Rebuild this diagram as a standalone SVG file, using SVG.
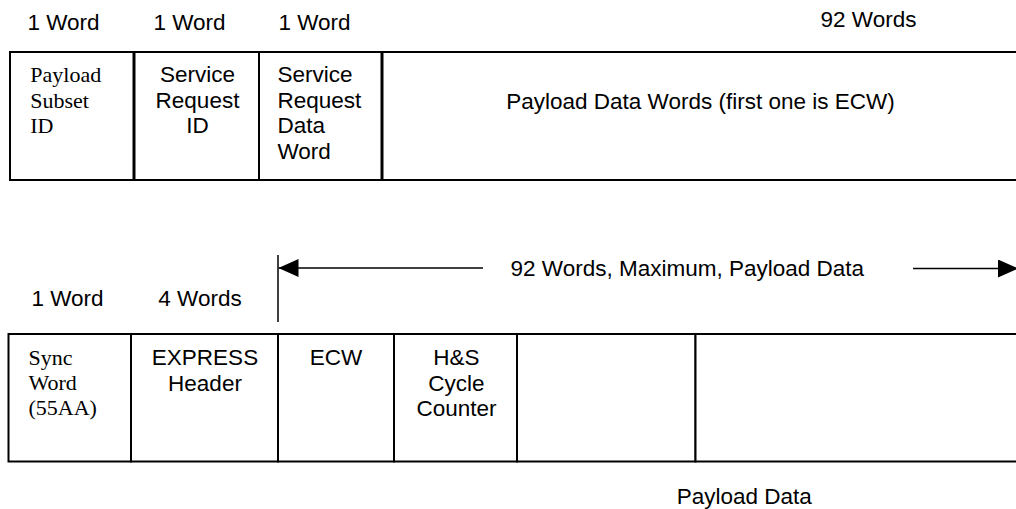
<svg xmlns="http://www.w3.org/2000/svg" width="1016" height="509" viewBox="0 0 1016 509">
  <style>
    .cell { fill: #ffffff; stroke: #000000; stroke-width: 2; }
    .sans { font-family: "Liberation Sans", Arial, sans-serif; font-size: 22.5px; fill: #000000; }
    .serif { font-family: "Liberation Serif", "Times New Roman", serif; font-size: 22px; fill: #000000; }
    .mid { text-anchor: middle; }
    .conn { stroke: #000000; stroke-width: 1.5; fill: none; }
  </style>
  <defs>
    <marker id="arrow" viewBox="0 0 20 18" refX="20" refY="9" markerWidth="20" markerHeight="18" markerUnits="userSpaceOnUse" orient="auto">
      <polygon points="0,0 20,9 0,18" fill="#000000"/>
    </marker>
  </defs>
  <rect width="1016" height="509" fill="#ffffff"/>

  <!-- Top row size labels -->
  <g id="top-labels">
    <text class="sans mid" x="63.5" y="30">1 Word</text>
    <text class="sans mid" x="189.5" y="30">1 Word</text>
    <text class="sans mid" x="314.5" y="30">1 Word</text>
    <text class="sans mid" x="868.5" y="27">92 Words</text>
  </g>

  <!-- Top row cells -->
  <g id="payload-subset-id">
    <rect class="cell" x="10" y="52" width="124" height="128"/>
    <text class="serif" x="30.3" y="82">Payload</text>
    <text class="serif" x="30.3" y="107.5">Subset</text>
    <text class="serif" x="30.3" y="133">ID</text>
  </g>
  <g id="service-request-id">
    <rect class="cell" x="134" y="52" width="125" height="128"/>
    <text class="sans mid" x="197.5" y="82">Service</text>
    <text class="sans mid" x="197.5" y="107.5">Request</text>
    <text class="sans mid" x="197.5" y="133">ID</text>
  </g>
  <g id="service-request-data-word">
    <rect class="cell" x="259" y="52" width="123" height="128"/>
    <text class="sans" x="277.5" y="82">Service</text>
    <text class="sans" x="277.5" y="107.5">Request</text>
    <text class="sans" x="277.5" y="133">Data</text>
    <text class="sans" x="277.5" y="158.5">Word</text>
  </g>
  <g id="payload-data-words">
    <rect class="cell" x="382" y="52" width="640" height="128"/>
    <text class="sans mid" x="700.5" y="109">Payload Data Words (first one is ECW)</text>
  </g>
  <line x1="134" y1="52" x2="134" y2="180" stroke="#000" stroke-width="3"/>
  <line x1="382" y1="52" x2="382" y2="180" stroke="#000" stroke-width="3"/>

  <!-- Bottom row size labels -->
  <g id="bottom-labels">
    <text class="sans mid" x="67.5" y="306">1 Word</text>
    <text class="sans mid" x="200" y="306">4 Words</text>
    <text class="sans mid" x="687.3" y="276">92 Words, Maximum, Payload Data</text>
    <text class="sans mid" x="744.3" y="504">Payload Data</text>
  </g>

  <!-- Connectors (dimension arrows) -->
  <g id="connectors">
    <line class="conn" x1="278" y1="255" x2="278" y2="322"/>
    <line class="conn" x1="483" y1="268" x2="278.5" y2="268" marker-end="url(#arrow)"/>
    <line class="conn" x1="913" y1="268.5" x2="1018" y2="268.5" marker-end="url(#arrow)"/>
  </g>

  <!-- Bottom row cells -->
  <g id="sync-word">
    <rect class="cell" x="8.5" y="334" width="122.5" height="127.5"/>
    <text class="serif" x="28.5" y="365">Sync</text>
    <text class="serif" x="28.5" y="390">Word</text>
    <text class="serif" x="28.5" y="415">(55AA)</text>
  </g>
  <g id="express-header">
    <rect class="cell" x="131" y="334" width="147" height="127.5"/>
    <text class="sans mid" x="205" y="365">EXPRESS</text>
    <text class="sans mid" x="205" y="390.5">Header</text>
  </g>
  <g id="ecw">
    <rect class="cell" x="278" y="334" width="116" height="127.5"/>
    <text class="sans mid" x="336" y="365">ECW</text>
  </g>
  <g id="hs-cycle-counter">
    <rect class="cell" x="394" y="334" width="123" height="127.5"/>
    <text class="sans mid" x="456.5" y="365">H&amp;S</text>
    <text class="sans mid" x="456.5" y="390.5">Cycle</text>
    <text class="sans mid" x="456.5" y="416">Counter</text>
  </g>
  <g id="payload-cell-1">
    <rect class="cell" x="517" y="334" width="178.5" height="127.5"/>
  </g>
  <g id="payload-cell-2">
    <rect class="cell" x="695.5" y="334" width="330" height="127.5"/>
  </g>
</svg>
